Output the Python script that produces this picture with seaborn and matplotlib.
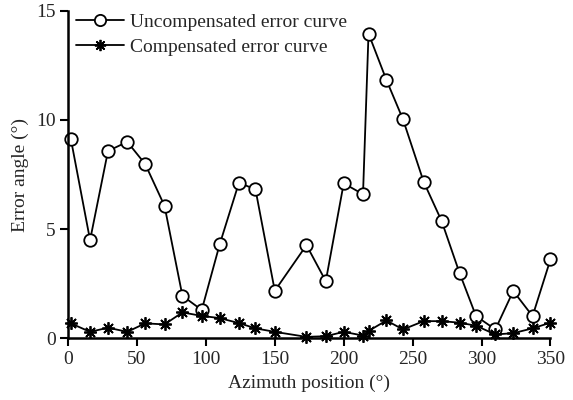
import matplotlib
matplotlib.use("Agg")
import matplotlib.pyplot as plt
import seaborn as sns
import pandas as pd

# azimuth positions (deg)
azimuth = [2, 16, 29, 43, 56, 70, 83, 97, 110, 124, 136, 150, 173, 187,
           200, 214, 218, 231, 243, 258, 271, 284, 296, 310, 323, 337, 350]

# error angle (deg)
uncompensated = [9.15, 4.5, 8.58, 9.0, 7.98, 6.07, 1.95, 1.3, 4.3, 7.13, 6.82,
                 2.18, 4.27, 2.62, 7.1, 6.6, 13.96, 11.83, 10.03, 7.17, 5.38,
                 3.0, 1.02, 0.41, 2.17, 1.02, 3.62]
compensated = [0.69, 0.3, 0.49, 0.3, 0.69, 0.64, 1.19, 1.03, 0.93, 0.7, 0.46,
               0.3, 0.07, 0.1, 0.3, 0.13, 0.34, 0.82, 0.41, 0.79, 0.79, 0.72,
               0.58, 0.18, 0.24, 0.46, 0.72]

df = pd.DataFrame({"az": azimuth, "unc": uncompensated, "comp": compensated})

sns.set_style("ticks")
plt.rcParams["font.family"] = ["Liberation Serif", "DejaVu Serif"]

fig = plt.figure(figsize=(5.73, 4.0), dpi=100)
ax = fig.add_axes([0.1187, 0.154, 0.842, 0.819])

sns.lineplot(data=df, x="az", y="unc", ax=ax, color="black", linewidth=1.3,
             marker="o", markersize=9, markerfacecolor="white",
             markeredgecolor="black", markeredgewidth=1.3, clip_on=False,
             label="Uncompensated error curve")
sns.lineplot(data=df, x="az", y="comp", ax=ax, color="black", linewidth=1.3,
             marker=(8, 2, 0), markersize=9, markeredgecolor="black",
             markeredgewidth=1.3, clip_on=False,
             label="Compensated error curve")

ax.set_xlim(0, 350)
ax.set_ylim(0, 15)
ax.set_xticks(range(0, 351, 50))
ax.set_yticks([0, 5, 10, 15])
ax.set_xlabel("Azimuth position (°)", fontsize=14, labelpad=5)
ax.set_ylabel("Error angle (°)", fontsize=14, labelpad=5)
ax.tick_params(labelsize=14, width=1.5, length=6, color="black", pad=3)
sns.despine(ax=ax)
for s in ["left", "bottom"]:
    ax.spines[s].set_linewidth(1.8)
    ax.spines[s].set_color("black")

ax.legend(loc="upper left", bbox_to_anchor=(-0.012, 1.035), frameon=False,
          fontsize=14, handlelength=2.5, handletextpad=0.26, labelspacing=0.4,
          borderaxespad=0.3, markerscale=0.9)

fig.savefig("out.png", dpi=100)
